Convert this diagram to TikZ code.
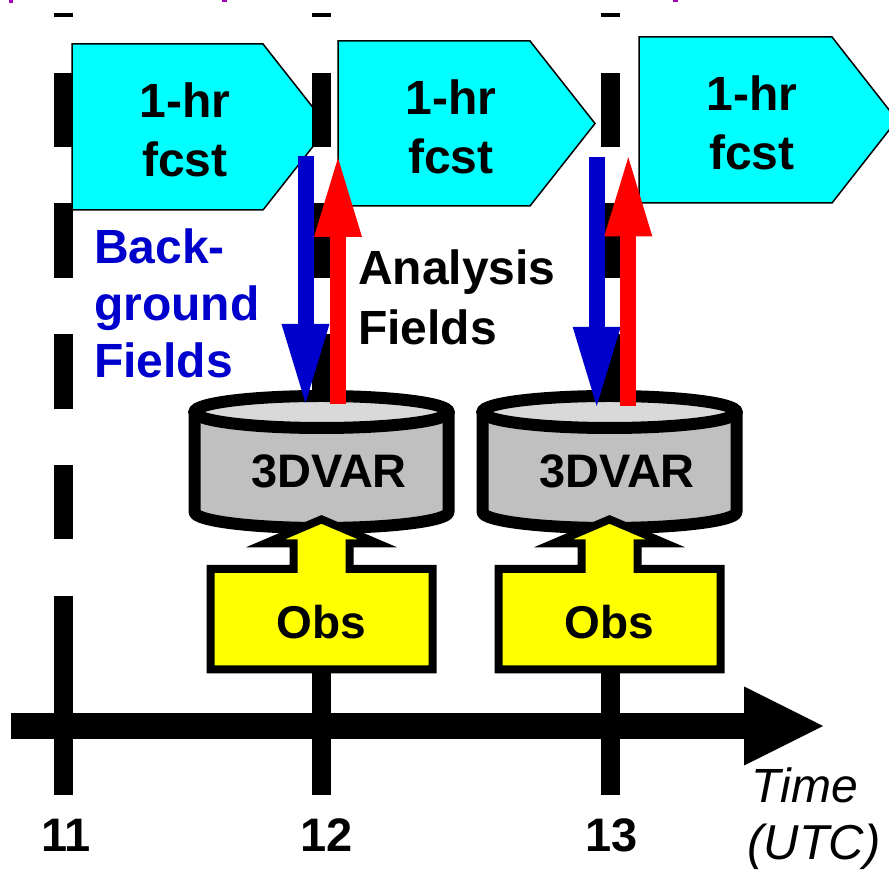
\documentclass[tikz,border=0pt]{standalone}
\usepackage{fontspec}
\setmainfont{Liberation Sans}
\usetikzlibrary{arrows.meta}

\definecolor{fcstcyan}{HTML}{00FFFF}
\definecolor{bgblue}{HTML}{0000CC}
\definecolor{anred}{HTML}{FF0000}
\definecolor{obsyellow}{HTML}{FFFF00}
\definecolor{cylbody}{HTML}{C0C0C0}
\definecolor{cyltop}{HTML}{D9D9D9}
\definecolor{hdrmagenta}{HTML}{A000B0}

\begin{document}
\begin{tikzpicture}[x=1pt,y=1pt,
  fcstbox/.style={fill=fcstcyan,draw=black,line width=1.5pt,line join=miter},
  fcsttext/.style={font=\bfseries\fontsize{48}{59}\selectfont,align=center,inner sep=0pt,anchor=north},
  cylwall/.style={fill=cylbody,draw=black,line width=12pt,line join=round,line cap=round},
  cyllid/.style={fill=cyltop,draw=black,line width=12pt},
  obsshape/.style={fill=obsyellow,draw=black,line width=8pt,line join=miter},
  boldlabel/.style={font=\bfseries\fontsize{47}{57}\selectfont,inner sep=0pt},
  bgarrow/.style={draw=bgblue,line width=16pt,-{Triangle[length=79pt 0 0,width=48pt 0 0,line width=0pt]}},
  anarrow/.style={draw=anred,line width=16pt,-{Triangle[length=79pt 0 0,width=48pt 0 0,line width=0pt]}},
  timeaxis/.style={draw=black,line width=26.6pt,-{Triangle[length=79pt 0 0,width=79pt 0 0,line width=0pt]}}
]
\clip (0,0) rectangle (889,870);
\fill[white] (0,0) rectangle (889,870);

% fragments of the heading above
\fill[hdrmagenta] (8.5,867) rectangle (13,870);
\fill[hdrmagenta] (222,867.5) rectangle (227,870);
\fill[hdrmagenta] (673,867.5) rectangle (678,870);

% one-hour forecast blocks
\draw[fcstbox] (72,826) -- (263,826) -- (328.3,743) -- (263,660) -- (72,660) -- cycle;
\draw[fcstbox] (338,829) -- (530,829) -- (595,746.5) -- (530,664) -- (338,664) -- cycle;
\draw[fcstbox] (639,833) -- (832,833) -- (897,750) -- (832,667) -- (639,667) -- cycle;
\node[fcsttext] (fc1) at (185,787) {1-hr\\fcst};
\node[fcsttext] (fc2) at (451,790) {1-hr\\fcst};
\node[fcsttext] (fc3) at (752,794) {1-hr\\fcst};

% hourly time marks: dashed above, solid tick at the axis
\foreach \lx in {63,321.5,610}{
  \foreach \ya/\yb in {853/857,723/796.5,592/667,461/536,331/405,75/274}{
    \fill[black] (\lx-9.5,\ya) rectangle (\lx+9.5,\yb);
  }
}

% 3DVAR cylinders
\foreach \cx in {321.5,609.5}{
  \filldraw[cylwall] (\cx-127,458) -- (\cx-127,358)
    arc[start angle=180,end angle=360,x radius=127,y radius=16] -- (\cx+127,458);
  \filldraw[cyllid] (\cx,458) ellipse[x radius=127,y radius=16];
}
\node[boldlabel,anchor=base] (var1) at (329,382) {3DVAR};
\node[boldlabel,anchor=base] (var2) at (617,382) {3DVAR};

% observation inputs
\foreach \c in {321.5,609.5}{
  \filldraw[obsshape] (\c-111,200.5) -- (\c-111,301) -- (\c-28,301) -- (\c-28,326.7)
    -- (\c-56,326.7) -- (\c,350.6) -- (\c+56,326.7) -- (\c+28,326.7)
    -- (\c+28,301) -- (\c+111,301) -- (\c+111,200.5) -- cycle;
}
\node[boldlabel,anchor=base,font=\bfseries\fontsize{46}{57}\selectfont] (obs1) at (321,231) {Obs};
\node[boldlabel,anchor=base,font=\bfseries\fontsize{46}{57}\selectfont] (obs2) at (609,231) {Obs};

% background and analysis field transfers
\coordinate (bgTop1) at (305.5,714.3);
\coordinate (bgTip1) at (305.5,467);
\coordinate (anBot1) at (338,466);
\coordinate (anTip1) at (338,712);
\coordinate (bgTop2) at (596.7,713);
\coordinate (bgTip2) at (596.7,464);
\coordinate (anBot2) at (628.3,464);
\coordinate (anTip2) at (628.3,712.7);
\draw[bgarrow] (bgTop1) -- (bgTip1);
\draw[anarrow] (anBot1) -- (anTip1);
\draw[bgarrow] (bgTop2) -- (bgTip2);
\draw[anarrow] (anBot2) -- (anTip2);

\node[boldlabel,anchor=north west,align=left,text=bgblue,
      font=\bfseries\fontsize{48}{57}\selectfont] (bglabel) at (94,641.5) {Back-\\ground\\Fields};
\node[boldlabel,anchor=north west,align=left,
      font=\bfseries\fontsize{48}{60}\selectfont] (anlabel) at (358,620) {Analysis\\Fields};

% time axis
\coordinate (axisStart) at (11,144);
\coordinate (axisEnd) at (823,144);
\draw[timeaxis] (axisStart) -- (axisEnd);

\node[boldlabel,anchor=base] (t11) at (66,18) {11};
\node[boldlabel,anchor=base] (t12) at (327,18) {12};
\node[boldlabel,anchor=base] (t13) at (612,18) {13};
\node[inner sep=0pt,anchor=base,font=\itshape\fontsize{48}{48}\selectfont] (timelabel) at (805,67) {Time};
\node[inner sep=0pt,anchor=base,font=\itshape\fontsize{49}{49}\selectfont] (utclabel) at (814,10) {(UTC)};
\end{tikzpicture}
\end{document}
